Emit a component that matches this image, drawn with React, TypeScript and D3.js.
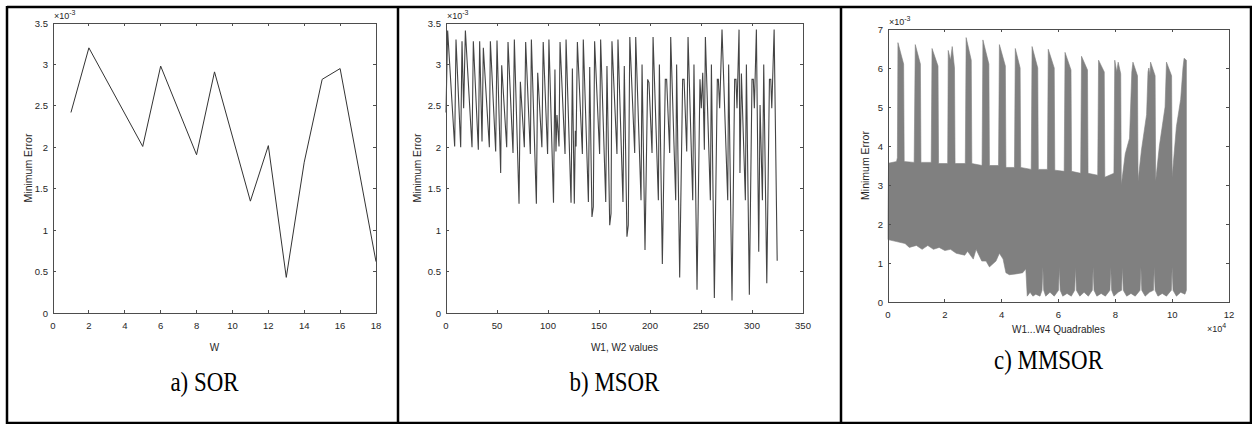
import React from 'react';
import * as d3 from 'd3';

// a) SOR : W vs minimum error (x1e-3), vertices of the polyline
const sorW = [1, 2, 5, 6, 8, 9, 11, 12, 13, 14, 15, 16, 18];
const sorErr = [2.42, 3.2, 2.01, 2.98, 1.91, 2.91, 1.35, 2.02, 0.43, 1.82, 2.82, 2.95, 0.62];

// b) MSOR : W1,W2 index vs minimum error (x1e-3), vertices
const msorX = [
  0, 1.6, 8.5, 9.8, 14.4, 15.7, 17.3, 19, 25.5, 26.8, 31.7, 33, 35.3, 36.6, 42.5, 43.5,
  48.7, 50, 53.6, 54.6, 59.5, 60.8, 65.7, 67, 71.6, 72.9, 76.8, 78.1, 82.7, 83.7, 88.6, 89.9,
  94, 95.3, 99.6, 100.9, 105.4, 106.8, 107.8, 108.8, 110.8, 111.8, 116.7, 117.7, 122.6, 123.9,
  125.8, 126.8, 127.5, 128.8, 133.7, 134.6, 139.6, 140.9, 143.1, 144.4, 145.7, 150.6, 151.6,
  156.6, 157.8, 160.5, 161.8, 162.7, 167.6, 168.6, 173.5, 174.8, 177.4, 178.7, 180.2, 185, 186,
  191.2, 192.2, 195.1, 197.7, 199, 202, 203, 208.2, 209.2, 212.1, 215, 216.3, 219.3, 220.3,
  225.2, 226.1, 229.1, 232, 233.4, 236, 237.3, 241.9, 243.1, 246.1, 249, 250.3, 251.7, 253.3,
  254.3, 259.2, 260.2, 263.1, 266, 267, 268.3, 270.6, 276.2, 277.1, 280.4, 283, 284.3, 285.3,
  287.3, 288.2, 289.6, 293.5, 294.5, 297.4, 300, 301.3, 302.3, 304.3, 306.6, 307.9, 310.2,
  311.5, 314.5, 317.1, 318.4, 319.4, 321.7, 324.7,
];
const msorErr = [
  2.42, 3.41, 2.01, 3.3, 2.0, 3.28, 2.47, 3.41, 2.0, 3.28, 1.97, 3.28, 2.07, 3.2, 2.0, 3.28,
  1.95, 3.29, 1.69, 2.99, 2.0, 3.27, 1.93, 3.3, 1.32, 2.79, 2.0, 3.27, 1.92, 3.3, 1.32, 2.9,
  2.0, 3.27, 1.92, 3.3, 1.33, 2.94, 1.95, 2.39, 2.01, 3.27, 1.92, 3.3, 1.33, 2.95,
  1.32, 2.2, 2.01, 3.27, 1.92, 3.3, 1.34, 2.97, 1.16, 1.28, 3.28, 1.92, 3.3,
  1.34, 2.98, 1.06, 1.2, 3.28, 1.92, 3.3, 1.34, 2.98, 0.92, 1.06, 3.33, 1.93, 3.33,
  1.36, 3.0, 0.76, 2.82, 2.78, 1.93, 3.33, 1.36, 3.0, 0.59, 2.82, 2.82, 1.93, 3.33,
  1.36, 3.0, 0.43, 2.82, 2.82, 1.95, 3.33, 1.36, 3.0, 0.28, 2.82, 2.47, 2.9, 1.97,
  3.33, 1.36, 3.0, 0.18, 2.82, 2.82, 2.47, 3.42, 1.36, 3.0, 0.15, 2.82, 2.82, 2.47,
  3.42, 1.69, 2.89, 1.36, 3.0, 0.22, 2.82, 2.82, 2.47, 3.42, 0.74, 2.51, 1.36,
  3.0, 0.36, 2.82, 2.82, 2.47, 3.42, 0.63,
];

// c) MMSOR : dense oscillation drawn as its envelope (x in 1e4, error x1e-3)
const mmUpX = [
  0, 0.02, 0.3, 0.33, 0.35, 0.55, 0.57, 0.92, 0.96, 1.14, 1.16, 1.52, 1.55, 1.76, 1.78, 2.1,
  2.12, 2.2, 2.26, 2.34, 2.36, 2.72, 2.75, 2.93, 2.95, 3.31, 3.34, 3.55, 3.57, 3.89, 3.92,
  4.13, 4.15, 4.45, 4.48, 4.65, 4.67, 5.04, 5.07, 5.27, 5.29, 5.61, 5.64, 5.85, 5.87, 6.2,
  6.23, 6.44, 6.46, 6.78, 6.81, 7.02, 7.04, 7.38, 7.41, 7.61, 7.63, 7.95, 7.98, 8.05, 8.1,
  8.19, 8.21, 8.35, 8.5, 8.58, 8.62, 8.78, 8.8, 8.92, 9.1, 9.15, 9.18, 9.22, 9.24, 9.4, 9.42,
  9.55, 9.75, 9.8, 9.98, 10.0, 10.15, 10.3, 10.38, 10.42, 10.5,
];
const mmUp = [
  2.2, 3.56, 3.6, 3.7, 6.65, 6.1, 3.6, 3.58, 6.6, 6.1, 3.58, 3.58, 6.5, 6.05, 3.55, 3.55,
  6.45, 6.2, 6.55, 6.0, 3.55, 3.55, 6.78, 6.2, 3.55, 3.5, 6.72, 6.1, 3.5, 3.5, 6.6,
  6.05, 3.45, 3.45, 6.5, 6.0, 3.45, 3.4, 6.55, 6.0, 3.4, 3.4, 6.48, 6.0, 3.38, 3.35,
  6.4, 5.95, 3.35, 3.3, 6.3, 5.95, 3.3, 3.25, 6.2, 5.9, 3.2, 3.3, 6.2, 5.9, 6.15,
  5.85, 3.0, 3.8, 4.2, 5.9, 6.15, 5.8, 3.1, 3.9, 4.8, 5.9, 6.0, 5.8, 6.15, 5.8, 3.1,
  4.0, 5.0, 6.15, 5.8, 3.2, 4.5, 5.2, 6.0, 6.25, 6.2,
];
const mmLowX = [
  0, 0.3, 0.6, 0.75, 1.0, 1.2, 1.4, 1.6, 1.8, 2.0, 2.2, 2.4, 2.7, 2.8, 3.0, 3.1, 3.3, 3.45,
  3.57, 3.8, 3.92, 4.05, 4.15, 4.27, 4.5, 4.74, 4.85, 4.9, 5.0, 5.1, 5.2, 5.35, 5.42, 5.45, 5.48,
  5.55, 5.7, 5.85, 6.0, 6.03, 6.06, 6.15, 6.3, 6.45, 6.57, 6.6, 6.63, 6.75, 6.9, 7.05, 7.19,
  7.22, 7.25, 7.35, 7.5, 7.65, 7.81, 7.84, 7.87, 7.95, 8.1, 8.22, 8.25, 8.28, 8.4, 8.55,
  8.7, 8.87, 8.9, 8.93, 9.05, 9.2, 9.34, 9.37, 9.4, 9.5, 9.65, 9.8, 9.97, 10.0, 10.03, 10.15,
  10.3, 10.45, 10.5,
];
const mmLow = [
  1.6, 1.55, 1.5, 1.4, 1.45, 1.35, 1.45, 1.35, 1.4, 1.32, 1.35, 1.25, 1.2, 1.3, 1.1, 1.35, 1.05, 1.05,
  0.9, 1.05, 1.25, 1.1, 0.75, 0.7, 0.72, 0.75, 0.85, 0.15, 0.25, 0.15, 0.2, 0.15, 0.3, 0.9, 0.3,
  0.15, 0.25, 0.15, 0.3, 0.9, 0.3, 0.15, 0.22, 0.15, 0.3, 0.9, 0.3, 0.15, 0.25, 0.15, 0.3,
  0.9, 0.3, 0.15, 0.22, 0.15, 0.3, 0.9, 0.3, 0.15, 0.25, 0.3, 0.9, 0.3, 0.15, 0.22,
  0.15, 0.3, 0.9, 0.3, 0.15, 0.25, 0.3, 0.9, 0.3, 0.15, 0.22, 0.15, 0.3, 0.9, 0.3, 0.15,
  0.25, 0.2, 0.3,
];

const sorXTicks = [0, 2, 4, 6, 8, 10, 12, 14, 16, 18];
const msorXTicks = [0, 50, 100, 150, 200, 250, 300, 350];
const mmXTicks = [0, 2, 4, 6, 8, 10, 12];
const errTicks = [0, 0.5, 1, 1.5, 2, 2.5, 3, 3.5];
const mmYTicks = [0, 1, 2, 3, 4, 5, 6, 7];

const font = '"Liberation Sans", Arial, sans-serif';
const axisColor = '#4d4d4d';

type PanelProps = {
  x0: number; x1: number; y0: number; y1: number;
  xDomain: [number, number]; yDomain: [number, number];
  xTicks: number[]; yTicks: number[];
  xLabel: string; xLabelY: number; tickY: number;
  yLabelX: number;
  caption: string; captionY: number;
  xExp?: boolean;
  children: (x: d3.ScaleLinear<number, number>, y: d3.ScaleLinear<number, number>) => React.ReactNode;
};

function Panel(p: PanelProps) {
  const x = d3.scaleLinear().domain(p.xDomain).range([p.x0, p.x1]);
  const y = d3.scaleLinear().domain(p.yDomain).range([p.y1, p.y0]);
  const tl = 3;
  const cx = (p.x0 + p.x1) / 2;
  const cy = (p.y0 + p.y1) / 2;
  return (
    <g>
      {p.children(x, y)}
      <g stroke={axisColor} strokeWidth={1} shapeRendering="crispEdges" fill="none">
        <rect x={p.x0} y={p.y0} width={p.x1 - p.x0} height={p.y1 - p.y0} />
        {p.xTicks.map(t => (
          <g key={'x' + t}>
            <line x1={x(t)} x2={x(t)} y1={p.y1} y2={p.y1 - tl} />
            <line x1={x(t)} x2={x(t)} y1={p.y0} y2={p.y0 + tl} />
          </g>
        ))}
        {p.yTicks.map(t => (
          <g key={'y' + t}>
            <line x1={p.x0} x2={p.x0 + tl} y1={y(t)} y2={y(t)} />
            <line x1={p.x1} x2={p.x1 - tl} y1={y(t)} y2={y(t)} />
          </g>
        ))}
      </g>
      <g fontFamily={font} fontSize={9.5} fill="#262626">
        {p.xTicks.map(t => (
          <text key={'xl' + t} x={x(t)} y={p.tickY} textAnchor="middle">{String(t)}</text>
        ))}
        {p.yTicks.map(t => (
          <text key={'yl' + t} x={p.x0 - 5} y={y(t) + 3.5} textAnchor="end">{String(t)}</text>
        ))}
        <text x={p.x0 + 1} y={p.y0 - 4} fontSize={9}>
          ×10<tspan dy={-4} fontSize={7}>-3</tspan>
        </text>
        {p.xExp && (
          <text x={p.x1 - 22} y={p.tickY + 14} fontSize={9}>
            ×10<tspan dy={-4} fontSize={7}>4</tspan>
          </text>
        )}
        <text x={cx} y={p.xLabelY} textAnchor="middle" fontSize={10}>{p.xLabel}</text>
        <text transform={`translate(${p.yLabelX},${cy}) rotate(-90)`} textAnchor="middle" fontSize={10.5}>
          Minimum Error
        </text>
      </g>
      <text x={cx - 10} y={p.captionY} textAnchor="middle" fontFamily='"Liberation Serif", serif'
        fontSize={27} fill="#000" transform={`translate(${cx - 10},0) scale(0.85,1) translate(${-(cx - 10)},0)`}>
        {p.caption}
      </text>
    </g>
  );
}

export default function App() {
  const W = 1252;
  const H = 424;
  return (
    <svg width={W} height={H} style={{ position: 'absolute', left: 0, top: 0, background: '#fff' }}>
      <rect x={0} y={0} width={W} height={H} fill="#fff" />
      <Panel x0={53} x1={376} y0={23} y1={313} xDomain={[0, 18]} yDomain={[0, 3.5]}
        xTicks={sorXTicks} yTicks={errTicks} xLabel="W" xLabelY={351} tickY={329}
        yLabelX={32} caption="a) SOR" captionY={391}>
        {(x, y) => {
          const line = d3.line<number>().x((_, i) => x(sorW[i])).y(d => y(d));
          return <path d={line(sorErr) ?? ''} fill="none" stroke="#333" strokeWidth={1} />;
        }}
      </Panel>
      <Panel x0={446} x1={803} y0={23} y1={313} xDomain={[0, 350]} yDomain={[0, 3.5]}
        xTicks={msorXTicks} yTicks={errTicks} xLabel="W1, W2 values" xLabelY={351} tickY={329}
        yLabelX={421} caption="b) MSOR" captionY={391}>
        {(x, y) => {
          const line = d3.line<number>().x((_, i) => x(msorX[i])).y(d => y(d));
          return <path d={line(msorErr) ?? ''} fill="none" stroke="#444" strokeWidth={1.1} />;
        }}
      </Panel>
      <Panel x0={888} x1={1229} y0={29} y1={302} xDomain={[0, 12]} yDomain={[0, 7]}
        xTicks={mmXTicks} yTicks={mmYTicks} xLabel="W1...W4 Quadrables" xLabelY={333} tickY={318}
        yLabelX={869} caption="c) MMSOR" captionY={369} xExp>
        {(x, y) => {
          const up = d3.line<number>().x((_, i) => x(mmUpX[i])).y(d => y(d));
          const lowPts = mmLow.map((v, i) => [x(mmLowX[i]), y(v)] as [number, number]).reverse();
          const d = (up(mmUp) ?? '') + lowPts.map(pt => `L${pt[0]},${pt[1]}`).join('') + 'Z';
          return <path d={d} fill="#808080" stroke="#808080" strokeWidth={0.6} />;
        }}
      </Panel>
      <g stroke="#000" strokeWidth={2.5} fill="none">
        <line x1={7} x2={1252} y1={7} y2={7} />
        <line x1={7} x2={7} y1={6} y2={424} />
        <line x1={398} x2={398} y1={6} y2={424} />
        <line x1={841} x2={841} y1={6} y2={424} />
        <line x1={1251} x2={1251} y1={6} y2={424} />
        <line x1={7} x2={1252} y1={423} y2={423} />
      </g>
    </svg>
  );
}
